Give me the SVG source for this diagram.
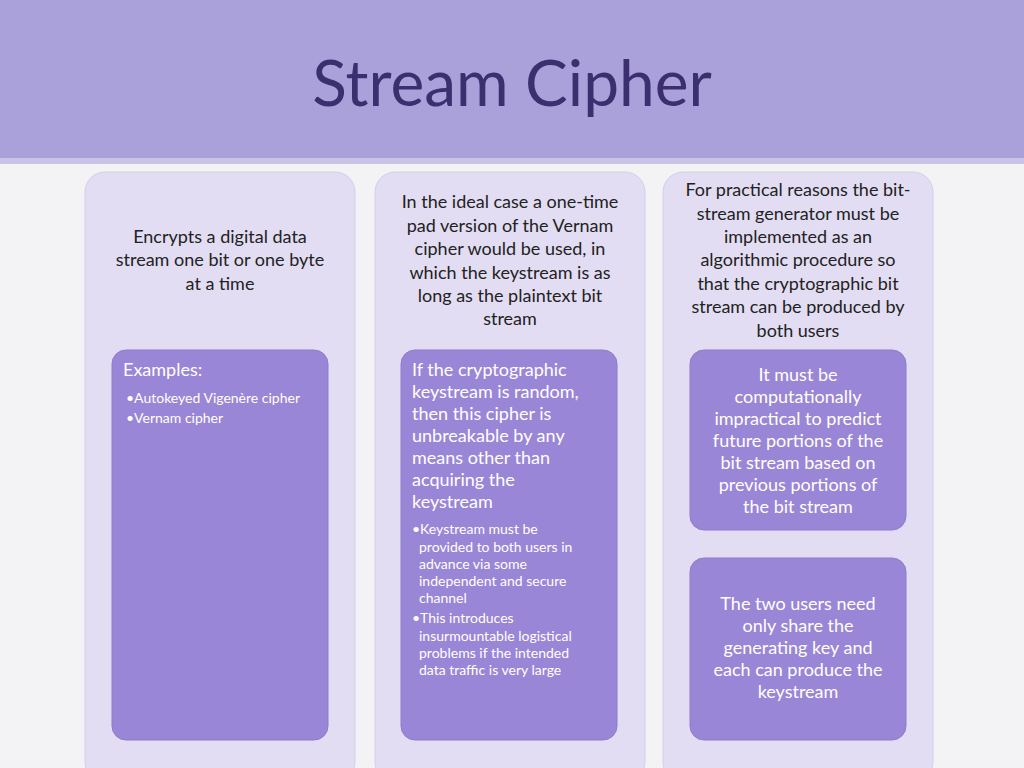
<svg xmlns="http://www.w3.org/2000/svg" width="1024" height="768" viewBox="0 0 1024 768">
<style>
.p{fill:#e2ddf3;stroke:#d4cfe9;stroke-width:1}
.b{fill:#9a86d6;stroke:#8f7bcc;stroke-width:1}
.t{font-family:Lato,"Open Sans",sans-serif;font-size:18px;fill:#222;text-anchor:middle}
.w{font-family:Lato,"Open Sans",sans-serif;font-size:18px;fill:#fff}
.s{font-family:Lato,"Open Sans",sans-serif;font-size:14px;fill:#fff}
</style>
<rect width="1024" height="768" fill="#f3f3f5"/>
<rect width="1024" height="162" fill="#aaa1da"/>
<rect y="158" width="1024" height="6" fill="#c9c4e6"/>
<text x="512" y="106" font-family="Lato,'Open Sans',sans-serif" font-size="64" fill="#3b2f70" text-anchor="middle">Stream Cipher</text>
<g id="col1">
<rect class="p" x="85" y="172" width="270" height="610" rx="20"/>
<text class="t"><tspan x="220" y="243">Encrypts a digital data</tspan><tspan x="220" y="266">stream one bit or one byte</tspan><tspan x="220" y="290">at a time</tspan></text>
</g>
<g id="box1">
<rect class="b" x="112" y="350" width="216" height="390" rx="14"/>
<text class="w" x="123" y="376">Examples:</text>
<text class="s"><tspan x="126" y="403">•Autokeyed Vigenère cipher</tspan><tspan x="126" y="423">•Vernam cipher</tspan></text>
</g>
<g id="col2">
<rect class="p" x="375" y="172" width="270" height="610" rx="20"/>
<text class="t"><tspan x="510" y="208">In the ideal case a one-time</tspan><tspan x="510" y="232">pad version of the Vernam</tspan><tspan x="510" y="255">cipher would be used, in</tspan><tspan x="510" y="279">which the keystream is as</tspan><tspan x="510" y="302">long as the plaintext bit</tspan><tspan x="510" y="325">stream</tspan></text>
</g>
<g id="box2">
<rect class="b" x="401" y="350" width="216" height="390" rx="14"/>
<text class="w"><tspan x="412" y="376">If the cryptographic</tspan><tspan x="412" y="398">keystream is random,</tspan><tspan x="412" y="420">then this cipher is</tspan><tspan x="412" y="442">unbreakable by any</tspan><tspan x="412" y="464">means other than</tspan><tspan x="412" y="486">acquiring the</tspan><tspan x="412" y="508">keystream</tspan></text>
<text class="s"><tspan x="412" y="534">•Keystream must be</tspan><tspan x="419" y="552">provided to both users in</tspan><tspan x="419" y="569">advance via some</tspan><tspan x="419" y="586">independent and secure</tspan><tspan x="419" y="603">channel</tspan><tspan x="412" y="623">•This introduces</tspan><tspan x="419" y="641">insurmountable logistical</tspan><tspan x="419" y="658">problems if the intended</tspan><tspan x="419" y="675">data traffic is very large</tspan></text>
</g>
<g id="col3">
<rect class="p" x="663" y="172" width="270" height="610" rx="20"/>
<text class="t"><tspan x="798" y="196">For practical reasons the bit-</tspan><tspan x="798" y="220">stream generator must be</tspan><tspan x="798" y="243">implemented as an</tspan><tspan x="798" y="266">algorithmic procedure so</tspan><tspan x="798" y="290">that the cryptographic bit</tspan><tspan x="798" y="313">stream can be produced by</tspan><tspan x="798" y="337">both users</tspan></text>
</g>
<g id="box3a">
<rect class="b" x="690" y="350" width="216" height="180" rx="14"/>
<text class="w" text-anchor="middle"><tspan x="798" y="381">It must be</tspan><tspan x="798" y="403">computationally</tspan><tspan x="798" y="425">impractical to predict</tspan><tspan x="798" y="447">future portions of the</tspan><tspan x="798" y="469">bit stream based on</tspan><tspan x="798" y="491">previous portions of</tspan><tspan x="798" y="513">the bit stream</tspan></text>
</g>
<g id="box3b">
<rect class="b" x="690" y="558" width="216" height="182" rx="14"/>
<text class="w" text-anchor="middle"><tspan x="798" y="610">The two users need</tspan><tspan x="798" y="632">only share the</tspan><tspan x="798" y="654">generating key and</tspan><tspan x="798" y="676">each can produce the</tspan><tspan x="798" y="698">keystream</tspan></text>
</g>
<g id="connectors"></g>
</svg>
